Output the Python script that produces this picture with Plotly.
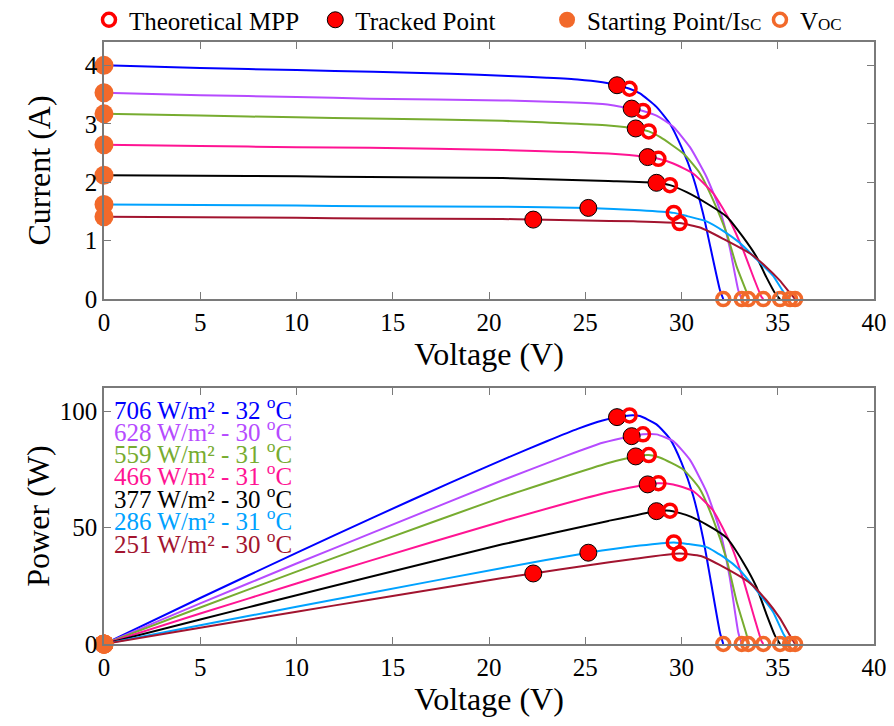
import plotly.graph_objects as go

# ---------------- data ----------------
labels = ["706 W/m² - 32 <sup>o</sup>C", "628 W/m² - 30 <sup>o</sup>C", "559 W/m² - 31 <sup>o</sup>C",
          "466 W/m² - 31 <sup>o</sup>C", "377 W/m² - 30 <sup>o</sup>C", "286 W/m² - 31 <sup>o</sup>C",
          "251 W/m² - 30 <sup>o</sup>C"]
colors = ["#0000FF", "#B64BFF", "#77AC30", "#FF1493", "#000000", "#00A2FF", "#A2142F"]

v_706 = [0, 5, 10, 14, 18, 21, 23, 24.6, 25.9, 26.65, 27.3, 27.84, 28.7, 29.4, 30.0, 30.6, 31.13, 31.5, 32.0, 32.17]
i_706 = [4.00, 3.955, 3.92, 3.89, 3.855, 3.82, 3.79, 3.76, 3.71, 3.66, 3.60, 3.52, 3.29, 3.00, 2.60, 2.09, 1.45, 0.89, 0.15, 0.0]

v_628 = [0, 5, 10, 13.8, 20.7, 24, 25.9, 27.41, 28.0, 28.7, 29.57, 30.44, 31.3, 32.0, 32.5, 32.95, 33.13]
i_628 = [3.53, 3.49, 3.46, 3.43, 3.40, 3.37, 3.34, 3.26, 3.22, 3.14, 2.95, 2.60, 2.09, 1.52, 0.89, 0.15, 0.0]

v_559 = [0, 5, 10, 13.8, 20.7, 26.2, 27.62, 28.3, 28.9, 30.1, 30.96, 31.65, 32.35, 32.87, 33.4, 33.47]
i_559 = [3.17, 3.14, 3.11, 3.09, 3.05, 2.97, 2.92, 2.87, 2.77, 2.49, 2.15, 1.69, 1.12, 0.55, 0.10, 0.0]

v_466 = [0, 5, 10, 13.8, 20.7, 26.2, 28.24, 28.8, 29.57, 30.6, 31.65, 32.5, 33.2, 33.8, 34.15, 34.25]
i_466 = [2.64, 2.62, 2.60, 2.59, 2.55, 2.49, 2.43, 2.40, 2.32, 2.15, 1.81, 1.35, 0.84, 0.32, 0.04, 0.0]

v_377 = [0, 5, 10, 13.8, 20.7, 26.2, 28.7, 29.4, 30.27, 31.3, 32.35, 33.2, 33.9, 34.4, 34.86, 35.12]
i_377 = [2.12, 2.11, 2.10, 2.09, 2.07, 2.02, 1.99, 1.95, 1.83, 1.64, 1.41, 1.06, 0.72, 0.38, 0.10, 0.0]

v_286 = [0, 5, 10, 13.8, 20.7, 25.16, 27.84, 29.6, 30.3, 31.3, 32.2, 33.0, 33.9, 34.75, 35.3, 35.64]
i_286 = [1.62, 1.61, 1.60, 1.59, 1.58, 1.56, 1.52, 1.475, 1.42, 1.33, 1.16, 0.97, 0.68, 0.40, 0.12, 0.0]

v_251 = [0, 5, 10, 13.8, 20.7, 22.3, 25.0, 27.5, 29.9, 31.0, 32.17, 33.56, 34.4, 35.1, 35.64, 35.9]
i_251 = [1.41, 1.40, 1.39, 1.38, 1.37, 1.36, 1.345, 1.33, 1.30, 1.22, 1.03, 0.78, 0.55, 0.32, 0.10, 0.0]

curves_v = [v_706, v_628, v_559, v_466, v_377, v_286, v_251]
curves_i = [i_706, i_628, i_559, i_466, i_377, i_286, i_251]

mpp_v = [27.3, 28.0, 28.3, 28.8, 29.4, 29.6, 29.9]
mpp_i = [3.60, 3.22, 2.87, 2.40, 1.95, 1.475, 1.30]
trk_v = [26.65, 27.41, 27.62, 28.24, 28.7, 25.16, 22.3]
trk_i = [3.66, 3.26, 2.92, 2.43, 1.99, 1.56, 1.36]
isc = [4.00, 3.53, 3.17, 2.64, 2.12, 1.62, 1.41]
voc = [32.17, 33.13, 33.47, 34.25, 35.12, 35.64, 35.9]

x_ticks = [0, 5, 10, 15, 20, 25, 30, 35, 40]
i_ticks = [0, 1, 2, 3, 4]
p_ticks = [0, 50, 100]

# ---------------- figure ----------------
FONT = "Liberation Serif"
RED = "#FF0000"
ORANGE = "#F2692A"

fig = go.Figure()

def pw(v, i):
    return [a * b for a, b in zip(v, i)]

for k in range(len(curves_v)):
    fig.add_trace(go.Scatter(x=curves_v[k], y=curves_i[k], mode="lines",
                             line=dict(color=colors[k], width=2, shape="spline", smoothing=0.5),
                             showlegend=False, xaxis="x", yaxis="y", hoverinfo="skip"))
    fig.add_trace(go.Scatter(x=curves_v[k], y=pw(curves_v[k], curves_i[k]), mode="lines",
                             line=dict(color=colors[k], width=2, shape="spline", smoothing=0.5),
                             showlegend=False, xaxis="x2", yaxis="y2", hoverinfo="skip"))

zeros = [0] * len(voc)

tracked_style = dict(symbol="circle", size=17, color=RED, line=dict(color="#000000", width=1))
mpp_style = dict(symbol="circle-open", size=13, color=RED, line=dict(color=RED, width=3.5))
start_style = dict(symbol="circle", size=19, color=ORANGE, line=dict(width=0))
voc_style = dict(symbol="circle-open", size=13, color=ORANGE, line=dict(color=ORANGE, width=3.5))

# top panel markers (each legend entry in its own legend box so it can be placed like the reference)
fig.add_trace(go.Scatter(x=trk_v, y=trk_i, mode="markers", marker=tracked_style, name="Tracked Point",
                         legend="legend2", cliponaxis=False, xaxis="x", yaxis="y"))
fig.add_trace(go.Scatter(x=mpp_v, y=mpp_i, mode="markers", marker=mpp_style, name="Theoretical MPP",
                         legend="legend", cliponaxis=False, xaxis="x", yaxis="y"))
fig.add_trace(go.Scatter(x=zeros, y=isc, mode="markers", marker=start_style,
                         name="Starting Point/I<span style='font-size:17px'>SC</span>",
                         legend="legend3", cliponaxis=False, xaxis="x", yaxis="y"))
fig.add_trace(go.Scatter(x=voc, y=zeros, mode="markers", marker=voc_style,
                         name="V<span style='font-size:17px'>OC</span>",
                         legend="legend4", cliponaxis=False, xaxis="x", yaxis="y"))

# bottom panel markers
fig.add_trace(go.Scatter(x=trk_v, y=pw(trk_v, trk_i), mode="markers", marker=tracked_style, showlegend=False,
                         cliponaxis=False, xaxis="x2", yaxis="y2"))
fig.add_trace(go.Scatter(x=mpp_v, y=pw(mpp_v, mpp_i), mode="markers", marker=mpp_style, showlegend=False,
                         cliponaxis=False, xaxis="x2", yaxis="y2"))
fig.add_trace(go.Scatter(x=zeros, y=zeros, mode="markers", marker=start_style, showlegend=False,
                         cliponaxis=False, xaxis="x2", yaxis="y2"))
fig.add_trace(go.Scatter(x=voc, y=zeros, mode="markers", marker=voc_style, showlegend=False,
                         cliponaxis=False, xaxis="x2", yaxis="y2"))

axis_common = dict(showgrid=False, zeroline=False, showline=True, linecolor="#7a7a7a", linewidth=1.5,
                   mirror="ticks", ticks="inside", ticklen=7, tickwidth=1.2, tickcolor="#7a7a7a",
                   ticklabeloverflow="allow",
                   tickfont=dict(family=FONT, size=25, color="#000000"))

def leg(xpos):
    return dict(orientation="h", x=xpos, y=1.0365, xanchor="left", yanchor="middle",
                font=dict(family=FONT, size=25, color="#000000"), itemwidth=30,
                bgcolor="rgba(0,0,0,0)", borderwidth=0)

fig.update_layout(
    width=878, height=710,
    margin=dict(l=96, r=12, t=34, b=74, autoexpand=False),
    paper_bgcolor="white", plot_bgcolor="white",
    font=dict(family=FONT, color="#000000"),
    xaxis=dict(domain=[0, 1], range=[0, 40], tickvals=x_ticks, anchor="y",
               title=dict(text="Voltage (V)", font=dict(size=32), standoff=2), **axis_common),
    yaxis=dict(domain=[0.573, 1], range=[0, 4.4], tickvals=i_ticks, anchor="x",
               title=dict(text="Current (A)", font=dict(size=32), standoff=25), **axis_common),
    xaxis2=dict(domain=[0, 1], range=[0, 40], tickvals=x_ticks, anchor="y2",
                title=dict(text="Voltage (V)", font=dict(size=32), standoff=4), **axis_common),
    yaxis2=dict(domain=[0, 0.425], range=[0, 110], tickvals=p_ticks, anchor="x2",
                title=dict(text="Power (W)", font=dict(size=32), standoff=1), **axis_common),
    legend=leg(-0.0195),
    legend2=leg(0.2744),
    legend3=leg(0.5754),
    legend4=leg(0.8519),
    showlegend=True,
)

ann_y = [0.921, 0.836, 0.751, 0.664, 0.576, 0.488, 0.398]
for k in range(len(labels)):
    fig.add_annotation(text=labels[k], xref="x2 domain", yref="y2 domain", x=0.0104, y=ann_y[k],
                       xanchor="left", yanchor="middle", showarrow=False,
                       font=dict(family=FONT, size=25, color=colors[k]))

fig.write_html("out.html")
